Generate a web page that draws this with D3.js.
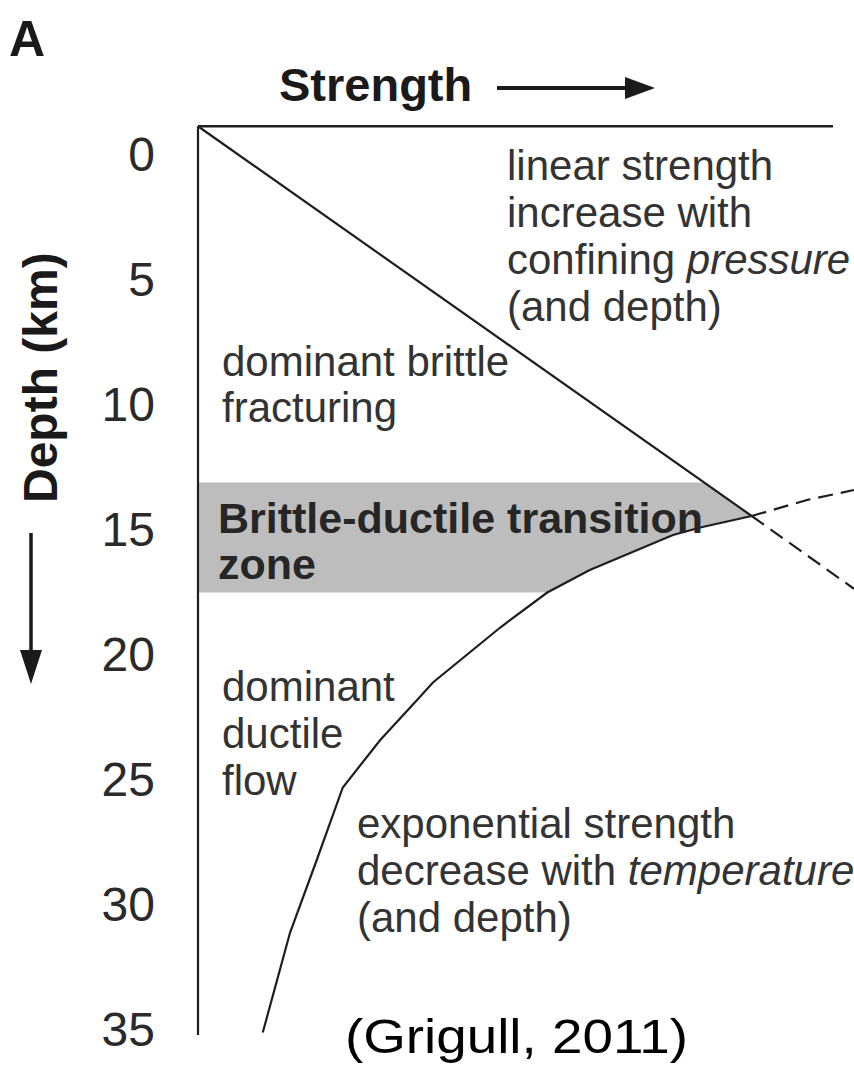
<!DOCTYPE html>
<html>
<head>
<meta charset="utf-8">
<script src="https://cdn.jsdelivr.net/npm/d3@7"></script>
<style>
  html, body { margin: 0; padding: 0; background: #fff; }
  svg { display: block; }
  text { font-family: "Liberation Sans", Arial, Helvetica, sans-serif; }
</style>
</head>
<body>
<svg id="chart" width="854" height="1066"></svg>
<script>
// Depth axis tick values (km)
const depthTicks = [0, 5, 10, 15, 20, 25, 30, 35];

// Frame extent in depth units (top edge and bottom of the depth axis)
const frameTopDepth = -1.15;
const frameBottomDepth = 35.2;
const frameRightStrength = 100;

// Brittle (frictional) strength: linear increase with depth
const brittleStrength = [0, 87.2];
const brittleDepth = [-1.15, 14.44];
// Its continuation beyond the transition (dashed)
const brittleExtStrength = [87.2, 103.3];
const brittleExtDepth = [14.44, 17.35];

// Ductile (viscous) strength: decrease with temperature and depth
const ductileStrength = [10.2, 14.5, 18.7, 22.8, 28.7, 34.5, 37.0, 47.6, 55.0, 61.7, 74.8, 79.1, 87.2];
const ductileDepth    = [35.1, 31.1, 28.2, 25.3, 23.4, 21.8, 21.1, 18.9, 17.5, 16.6, 15.2, 14.9, 14.44];
// Its continuation above the transition (dashed)
const ductileExtStrength = [87.2, 95.9, 103.3];
const ductileExtDepth    = [14.44, 13.8, 13.4];

// Brittle-ductile transition zone (depth range, km)
const zoneTop = 13.1;
const zoneBottom = 17.5;

const svg = d3.select("#chart");

const x = d3.scaleLinear().domain([0, 100]).range([198, 833]);
const y = d3.scaleLinear().domain([0, 35]).range([155, 1030]);

const toPts = (s, d) => s.map((v, i) => [v, d[i]]);
const line = d3.line().x(p => x(p[0])).y(p => y(p[1]));

// Strength at a given depth along a polyline (linear interpolation)
function strengthAt(s, d, depth) {
  for (let i = 0; i < d.length - 1; i++) {
    const d0 = d[i], d1 = d[i + 1];
    if ((depth - d0) * (depth - d1) <= 0) {
      const t = (depth - d0) / (d1 - d0);
      return s[i] + t * (s[i + 1] - s[i]);
    }
  }
  return null;
}

// Shaded transition zone, bounded by the brittle line above and the ductile curve below
const zonePts = [[0, zoneTop], [strengthAt(brittleStrength, brittleDepth, zoneTop), zoneTop]];
zonePts.push([brittleStrength[1], brittleDepth[1]]);
const ductileUp = toPts(ductileStrength, ductileDepth)
  .filter(p => p[1] < zoneBottom && p[1] > brittleDepth[1]).sort((a, b) => a[1] - b[1]);
ductileUp.forEach(p => zonePts.push(p));
zonePts.push([strengthAt(ductileStrength, ductileDepth, zoneBottom), zoneBottom]);
zonePts.push([0, zoneBottom]);

svg.append("path")
  .attr("d", line(zonePts) + "Z")
  .attr("fill", "#bdbdbd");

// Frame: depth axis line and strength (top) line
svg.append("path")
  .attr("d", line([[0, frameBottomDepth], [0, frameTopDepth]]))
  .attr("fill", "none").attr("stroke", "#1e1e1e").attr("stroke-width", 2.2);
svg.append("path")
  .attr("d", line([[0, frameTopDepth], [frameRightStrength, frameTopDepth]]))
  .attr("fill", "none").attr("stroke", "#1e1e1e").attr("stroke-width", 2.6);

// Curves
svg.append("path").attr("d", line(toPts(brittleStrength, brittleDepth)))
  .attr("fill", "none").attr("stroke", "#1e1e1e").attr("stroke-width", 2.2);
svg.append("path").attr("d", line(toPts(ductileStrength, ductileDepth)))
  .attr("fill", "none").attr("stroke", "#1e1e1e").attr("stroke-width", 2.2);
svg.append("path").attr("d", line(toPts(brittleExtStrength, brittleExtDepth)))
  .attr("fill", "none").attr("stroke", "#1e1e1e").attr("stroke-width", 2.2)
  .attr("stroke-dasharray", "15,8");
svg.append("path").attr("d", line(toPts(ductileExtStrength, ductileExtDepth)))
  .attr("fill", "none").attr("stroke", "#1e1e1e").attr("stroke-width", 2.2)
  .attr("stroke-dasharray", "15,8");

// Depth tick labels
const axis = d3.axisLeft(y).tickValues(depthTicks).tickSize(0).tickPadding(43);
const gAxis = svg.append("g").attr("transform", `translate(${x(0)},0)`).call(axis);
gAxis.select(".domain").remove();
gAxis.selectAll("text")
  .attr("font-size", 48).attr("fill", "#2a2a2a")
  .attr("font-family", "'Liberation Sans', Arial, sans-serif");

// Panel letter
svg.append("text").attr("x", 9).attr("y", 56)
  .attr("font-size", 50).attr("font-weight", "bold").attr("fill", "#1a1a1a").text("A");

// Strength axis title with arrow
svg.append("text").attr("x", 279).attr("y", 101)
  .attr("font-size", 47).attr("font-weight", "bold").attr("fill", "#1a1a1a").text("Strength");
svg.append("line").attr("x1", 497).attr("y1", 88).attr("x2", 630).attr("y2", 88)
  .attr("stroke", "#1a1a1a").attr("stroke-width", 4);
svg.append("path").attr("d", "M655,88 L625,77 L625,99 Z").attr("fill", "#1a1a1a");

// Depth axis title with arrow
svg.append("text")
  .attr("transform", "translate(57,503) rotate(-90)")
  .attr("font-size", 48).attr("font-weight", "bold").attr("fill", "#1a1a1a").text("Depth (km)");
svg.append("line").attr("x1", 31).attr("y1", 533).attr("x2", 31).attr("y2", 655)
  .attr("stroke", "#1a1a1a").attr("stroke-width", 3.5);
svg.append("path").attr("d", "M31,684 L20,650 L42,650 Z").attr("fill", "#1a1a1a");

// Region annotations: each line is a list of [text, italic] segments
function annotate(xp, yp, dy, lines, opts) {
  const t = svg.append("text").attr("x", xp).attr("y", yp)
    .attr("font-size", opts.size).attr("fill", opts.fill)
    .attr("font-weight", opts.bold ? "bold" : "normal");
  lines.forEach((ln, i) => {
    ln.forEach((seg, j) => {
      const ts = t.append("tspan").text(seg[0]);
      if (j === 0) ts.attr("x", xp).attr("dy", i === 0 ? 0 : dy);
      if (seg[1]) ts.attr("font-style", "italic");
    });
  });
}

annotate(507, 180, 47, [
  [["linear strength"]],
  [["increase with"]],
  [["confining "], ["pressure", true]],
  [["(and depth)"]]
], { size: 42, fill: "#333" });

annotate(222, 376, 46, [
  [["dominant brittle"]],
  [["fracturing"]]
], { size: 42, fill: "#333" });

annotate(218, 533, 46, [
  [["Brittle-ductile transition"]],
  [["zone"]]
], { size: 43, fill: "#262626", bold: true });

annotate(222, 701, 47, [
  [["dominant"]],
  [["ductile"]],
  [["flow"]]
], { size: 42, fill: "#333" });

annotate(357, 838, 47, [
  [["exponential strength"]],
  [["decrease with "], ["temperature", true]],
  [["(and depth)"]]
], { size: 42, fill: "#333" });

// Source credit
svg.append("text").attr("x", 345).attr("y", 1053)
  .attr("font-size", 48).attr("fill", "#000")
  .attr("font-family", "'Comic Sans MS', 'Comic Neue', 'DejaVu Sans', sans-serif")
  .attr("textLength", 343).attr("lengthAdjust", "spacingAndGlyphs")
  .text("(Grigull, 2011)");
</script>
</body>
</html>
